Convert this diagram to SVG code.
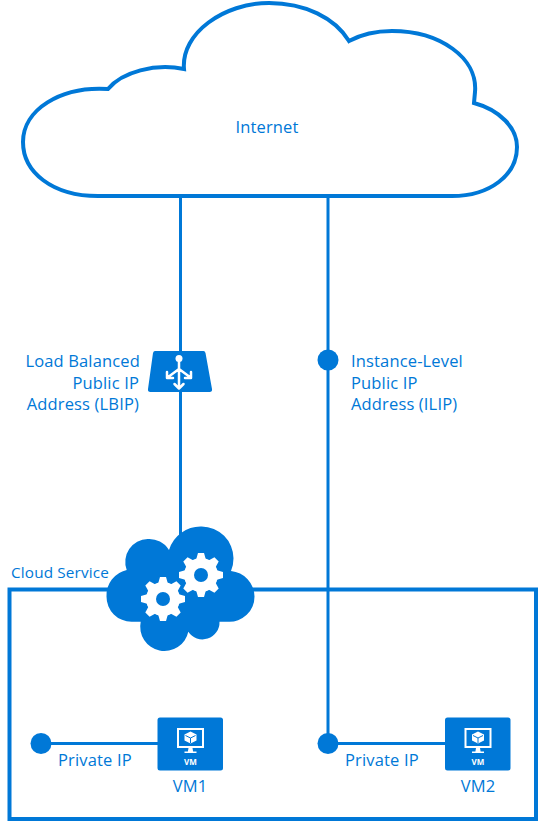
<svg xmlns="http://www.w3.org/2000/svg" width="538" height="821" viewBox="0 0 538 821">
<style>
text{font-family:"Open Sans","Noto Sans","Liberation Sans",sans-serif;font-size:16.5px;letter-spacing:.15px;fill:#0078d7}
.c{fill:#0078d7}
.l{fill:none;stroke:#0078d7;stroke-width:3}
.b{fill:none;stroke:#0078d7;stroke-width:4}
.w{fill:none;stroke:#fff;stroke-width:2.500;stroke-linecap:round;stroke-linejoin:round}
text.vm{font-size:8px;font-weight:700;fill:#fff}
.t{fill:#fff}
</style>
<defs>
<path id="tooth" class="t" d="M-5 -15L-3 -22H3L5 -15Z"/>
<g id="gear">
<circle r="17" fill="#fff"/>
<use href="#tooth"/>
<use href="#tooth" transform="rotate(45)"/>
<use href="#tooth" transform="rotate(90)"/>
<use href="#tooth" transform="rotate(135)"/>
<use href="#tooth" transform="rotate(180)"/>
<use href="#tooth" transform="rotate(225)"/>
<use href="#tooth" transform="rotate(270)"/>
<use href="#tooth" transform="rotate(315)"/>
<circle r="7" class="c"/>
</g>
<g id="vmicon">
<rect width="65.500" height="53" rx="2.500" class="c"/>
<rect x="20.500" y="11.500" width="25" height="18" fill="none" stroke="#fff" stroke-width="2"/>
<path d="M33 14l6 3v6l-6 3-6-3v-6z" fill="#fff"/>
<path d="M33 20.500v5M28 18l5 2.500 5-2.500" fill="none" stroke="#0078d7" stroke-width="1"/>
<path d="M31 30.500h4l.6 3.500h3.400v1.500H27V34h3.400z" fill="#fff"/>
<text class="vm" x="33" y="47" text-anchor="middle">VM</text>
</g>
</defs>
<g id="connectors">
<path class="l" d="M180.500 196V535M328 196V744"/>
<path class="l" d="M41 743.500H158M328 743.500H445"/>
</g>
<g id="internet">
<path d="M98 196C52 196 23 172 23 142C23 110 60 86 108 89C122 72 155 63 184 69C181 33 224 3 269 3C305 3 335 18 349 41C362 34 378 31 392 31C440 31 478 58 475 92L474 103C500 110 517 128 517 147C517 175 490 196 452 196Z" fill="#fff" stroke="#0078d7" stroke-width="4"/>
<text x="267" y="133" text-anchor="middle">Internet</text>
</g>
<g id="lbip">
<path d="M155 351H203.500Q205 351 205.500 353L212 389Q212.500 392 209.500 392H150.500Q147.500 392 148 389L153 353Q153.500 351 155 351Z" class="c"/>
<path class="w" d="M179 360V388M179 369L167.500 377.500M179 369L190.500 377.500M167 372V378H173M191 372V378H185M174.500 384L179 388.500L183.500 384"/>
<circle cx="179" cy="358.500" r="3.500" fill="#fff"/>
<text x="140" y="367" text-anchor="end">Load Balanced</text>
<text x="139" y="388.500" text-anchor="end">Public IP</text>
<text x="139" y="410" text-anchor="end">Address (LBIP)</text>
</g>
<g id="ilip">
<circle cx="328" cy="360" r="10.500" class="c"/>
<text x="351" y="367">Instance-Level</text>
<text x="351" y="388.500">Public IP</text>
<text x="351" y="410">Address (ILIP)</text>
</g>
<g id="cloud-service">
<path class="b" d="M109 589.500H9.500V819H536V589.500H250"/>
<text x="11" y="578" style="font-size:15.300px">Cloud Service</text>
<path class="c" d="M169 550A33 33 0 0 1 201.700 526.500A32 32 0 0 1 233.500 558.300Q233.500 565 231 571A26 26 0 0 1 254.500 596.500A25 25 0 0 1 228 621.700H219.500A17 17 0 0 1 188.300 631.700A24 24 0 0 1 140.700 621.700H131.700A25 25 0 0 1 106.500 596.500A26 26 0 0 1 126.700 570A23 23 0 0 1 147.700 539A23 23 0 0 1 169 550Z"/>
<use href="#gear" x="163" y="599"/>
<use href="#gear" x="201" y="575"/>
</g>
<g id="vm1">
<circle cx="41" cy="743.500" r="10.500" class="c"/>
<text x="58" y="766">Private IP</text>
<use href="#vmicon" x="157.500" y="717.500"/>
<text x="190" y="792" text-anchor="middle">VM1</text>
</g>
<g id="vm2">
<circle cx="328" cy="743.500" r="10.500" class="c"/>
<text x="345" y="766">Private IP</text>
<use href="#vmicon" x="445" y="717.500"/>
<text x="478" y="792" text-anchor="middle">VM2</text>
</g>
</svg>
